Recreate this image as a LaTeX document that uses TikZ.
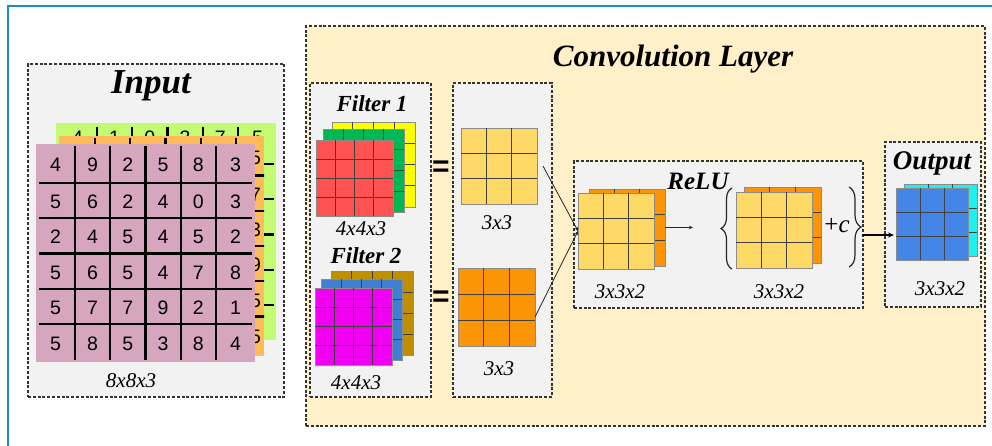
\documentclass[tikz,border=0pt]{standalone}
\usepackage{fontspec}
\setmainfont{Liberation Serif}
\newfontfamily\digitfont{Liberation Sans}
\usetikzlibrary{calc,fit,arrows.meta,decorations.pathreplacing}

\definecolor{framecol}{HTML}{1E8AC8}
\definecolor{panelgray}{HTML}{F2F2F2}
\definecolor{convfill}{HTML}{FFF0C9}
\definecolor{dashcol}{HTML}{333333}
\definecolor{inpink}{HTML}{D5A6BD}
\definecolor{inorange}{HTML}{FFBA5A}
\definecolor{ingreen}{HTML}{C3FC72}
\definecolor{fred}{HTML}{FF5353}
\definecolor{fgreen}{HTML}{00B853}
\definecolor{fyellow}{HTML}{FFFF00}
\definecolor{fbrown}{HTML}{BF8F00}
\definecolor{fblue}{HTML}{3F80D3}
\definecolor{fmagenta}{HTML}{F000F0}
\definecolor{mapyellow}{HTML}{FFD966}
\definecolor{maporange}{HTML}{FB9506}
\definecolor{outblue}{HTML}{4486E8}
\definecolor{outcyan}{HTML}{1EF0F0}

\tikzset{
  panel/.style={draw=dashcol, fill=panelgray, line width=1.1pt, dash pattern=on 3pt off 1.8pt, inner sep=0pt, outer sep=0pt},
  convpanel/.style={panel, fill=convfill},
  cellbox/.style={draw=black!45, line width=0.8pt, inner sep=0pt, outer sep=0pt},
  cellline/.style={draw=black!75, line width=0.9pt},
  inlayer/.style={inner sep=0pt, outer sep=0pt},
  inline/.style={draw=black, line width=2.2pt},
  digit/.style={font=\digitfont\fontsize{19.5}{19.5}\selectfont, inner sep=0pt},
  title/.style={font=\bfseries\itshape\fontsize{#1}{#1}\selectfont, inner sep=0pt, anchor=base},
  dimlabel/.style={font=\itshape\fontsize{21}{21}\selectfont, inner sep=0pt},
  eqsign/.style={font=\digitfont\bfseries\fontsize{30}{30}\selectfont, inner sep=0pt},
  thinarrow/.style={draw=black!85, line width=0.8pt, -{Stealth[length=4pt,width=3.5pt]}},
  thickarrow/.style={draw=black, line width=1.6pt, -{Stealth[length=6pt,width=5pt]}},
  bracestyle/.style={draw=black!85, line width=1.2pt, decorate, decoration={brace, amplitude=#1}},
}

% square grid of n x n cells between two corners
\newcommand\cellgrid[7]{%
  \node[cellbox, fill=#7, fit={(#2,#3) (#4,#5)}] (#1) {};
  \pgfmathtruncatemacro\cgn{#6-1}%
  \foreach \k in {1,...,\cgn}{%
    \pgfmathsetmacro\cgf{\k/#6}%
    \draw[cellline] ($(#1.north west)!\cgf!(#1.north east)$) -- ($(#1.south west)!\cgf!(#1.south east)$);
    \draw[cellline] ($(#1.north west)!\cgf!(#1.south west)$) -- ($(#1.north east)!\cgf!(#1.south east)$);
  }%
}

% thick separators of a 6 x 6 input channel
\newcommand\inputlines{%
  \foreach \kx in {0,...,4}{%
    \draw[inline] ({75+35.25*\kx},146) -- ({75+35.25*\kx},360);
    \draw[inline] (39,{183+35.25*\kx}) -- (252,{183+35.25*\kx});
  }%
}
% numbers of an input channel, given as row/column/value, raised by #2
\newcommand\inputdigits[3]{%
  \foreach \r/\c/\d in {#3}{%
    \pgfmathsetmacro\dx{{55.5,92.6,127.9,163.1,198.4,235.5}[\c-1]}%
    \pgfmathsetmacro\dy{{165,202,237,272.5,308,344}[\r-1]-#2}%
    \node[digit] (#1-\r-\c) at (\dx,\dy) {\d};
  }%
}

\begin{document}
\begin{tikzpicture}[x=1pt,y=-1pt]
\useasboundingbox (0,0) rectangle (992,446);
\fill[white] (0,0) rectangle (992,446);
\draw[framecol, line width=2pt] (8,446) -- (8,6) -- (992,6);

% ---------- input volume ----------
\node[panel, fit={(28,64) (284,397)}] (inpanel) {};
\node[title=35] (tin) at (151,94) {Input};

% third channel (back)
\node[inlayer, fill=ingreen, fit={(56,123) (276,340)}] (lg) {};
\begin{scope}
  \clip (lg.north west) rectangle (lg.south east);
  \begin{scope}[shift={(22,-19)}]
    \inputlines
    \inputdigits{g}{8}{1/1/4,1/2/1,1/3/0,1/4/3,1/5/7,1/6/5}
  \end{scope}
\end{scope}

% second channel
\node[inlayer, fill=inorange, fit={(59,136) (264,356)}] (lo) {};
\begin{scope}
  \clip (lo.north west) rectangle (lo.south east);
  \begin{scope}[shift={(20,-7.5)}]
    \inputlines
    \inputdigits{o}{0}{1/6/5,2/6/7,3/6/3,4/6/9,5/6/5,6/6/5}
  \end{scope}
\end{scope}

% first channel (front)
\node[inlayer, fill=inpink, fit={(36,144) (255,362)}] (lp) {};
\inputlines
\inputdigits{p}{0}{1/1/4,1/2/9,1/3/2,1/4/5,1/5/8,1/6/3,
  2/1/5,2/2/6,2/3/2,2/4/4,2/5/0,2/6/3,
  3/1/2,3/2/4,3/3/5,3/4/4,3/5/5,3/6/2,
  4/1/5,4/2/6,4/3/5,4/4/4,4/5/7,4/6/8,
  5/1/5,5/2/7,5/3/7,5/4/9,5/5/2,5/6/1,
  6/1/5,6/2/8,6/3/5,6/4/3,6/5/8,6/6/4}
\node[dimlabel] (lin) at (131,381) {8x8x3};

% ---------- convolution layer ----------
\node[convpanel, fit={(306,26) (985,426)}] (conv) {};
\node[title=31] (tconv) at (673,67) {Convolution Layer};

\node[panel, fit={(310,83) (431,397)}] (fpanel) {};
\node[panel, fit={(453,83) (552,397)}] (mpanel) {};
\node[panel, fit={(574,161) (863,308)}] (rpanel) {};
\node[panel, fit={(885,142) (981,307)}] (opanel) {};

% filters
\node[title=23] (tf1) at (372,112) {Filter 1};
\cellgrid{f1c}{332}{122}{415}{207}{4}{fyellow}
\cellgrid{f1b}{323}{129}{404}{212}{4}{fgreen}
\cellgrid{f1a}{316}{140}{393}{216}{4}{fred}
\node[dimlabel] (lf1) at (361,229) {4x4x3};

\node[title=23] (tf2) at (366,263) {Filter 2};
\cellgrid{f2c}{331}{271}{413}{355}{4}{fbrown}
\cellgrid{f2b}{321}{279}{402}{360}{4}{fblue}
\cellgrid{f2a}{315}{288}{392}{365}{4}{fmagenta}
\node[dimlabel] (lf2) at (356,383) {4x4x3};

\node[eqsign] (eq1) at (441,169) {=};
\node[eqsign] (eq2) at (441,299) {=};

% feature maps
\cellgrid{m1}{461}{128}{537}{204}{3}{mapyellow}
\node[dimlabel] (lm1) at (497,223) {3x3};
\cellgrid{m2}{458}{268}{535}{346}{3}{maporange}
\node[dimlabel] (lm2) at (499,369) {3x3};

% ReLU stage
\node[title=25] (trelu) at (698,190) {ReLU};
\cellgrid{r1b}{589}{189}{665}{266}{3}{maporange}
\cellgrid{r1a}{578}{193}{654}{269}{3}{mapyellow}
\node[dimlabel] (lr1) at (620,292) {3x3x2};

\draw[bracestyle=11pt] (732,269) -- (732,188);
\cellgrid{r2b}{744}{187}{821}{263}{3}{maporange}
\cellgrid{r2a}{736}{192}{812}{268}{3}{mapyellow}
\node[font=\fontsize{25}{25}\selectfont, inner sep=0pt] (plusc) at (837,226) {+\textit{c}};
\draw[bracestyle=12pt] (849,187) -- (849,267);
\node[dimlabel] (lr2) at (779,292) {3x3x2};

% output
\node[title=27] (tout) at (932,170) {Output};
\cellgrid{o1b}{904}{184}{977}{256}{3}{outcyan}
\cellgrid{o1a}{896}{188}{968}{260}{3}{outblue}
\node[dimlabel] (lout) at (940,289) {3x3x2};

% connectors
\coordinate (reluend) at (693,227);
\coordinate (bracetip) at (862,235);
\draw[thinarrow] ([xshift=6pt]m1.east) -- (r1a.west);
\draw[thinarrow] ([yshift=-10pt]m2.east) -- (r1a.west);
\draw[thinarrow] (r1b.east) -- (r1b.east -| reluend);
\draw[thickarrow, shorten >=2pt] (bracetip) -- (bracetip -| o1a.west);
\end{tikzpicture}
\end{document}
